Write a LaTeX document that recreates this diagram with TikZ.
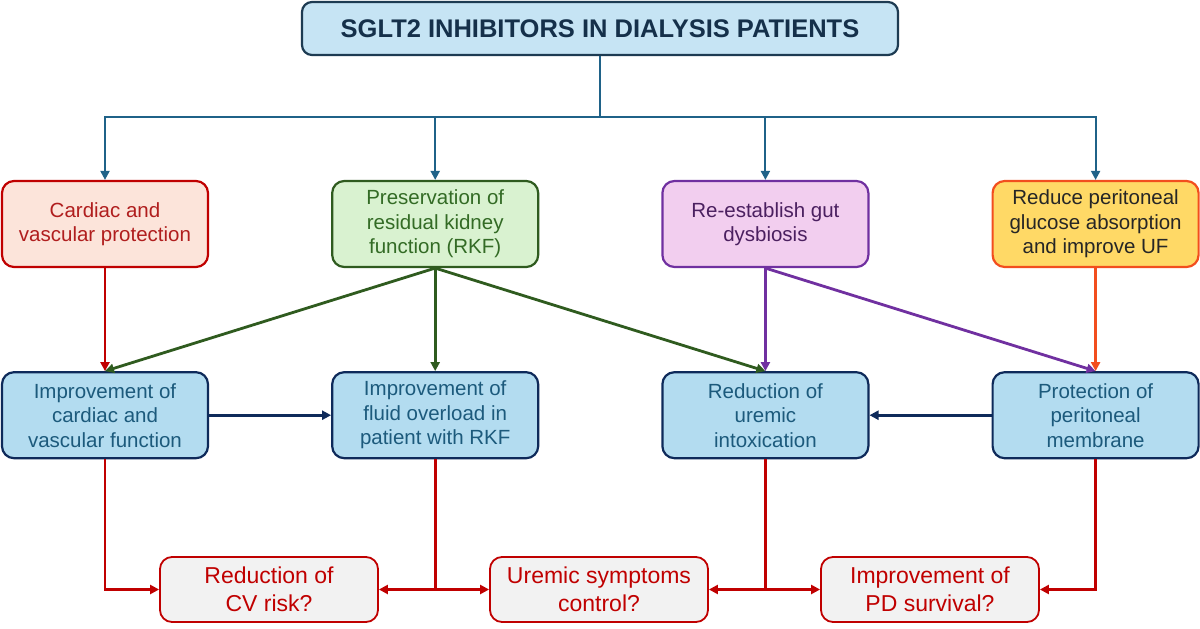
\documentclass[tikz,border=0pt]{standalone}
\usepackage{fontspec}
\setmainfont{Liberation Sans}
\usetikzlibrary{positioning, arrows.meta}

\definecolor{titlefill}{HTML}{C6E4F4}
\definecolor{titledraw}{HTML}{1D3B52}
\definecolor{titletext}{HTML}{15304A}
\definecolor{treeblue}{HTML}{1F6288}
\definecolor{cardfill}{HTML}{FCE4DA}
\definecolor{darkred}{HTML}{C00000}
\definecolor{cardtext}{HTML}{B01E1E}
\definecolor{rkffill}{HTML}{D9F2D0}
\definecolor{rkfdraw}{HTML}{2F5B1F}
\definecolor{rkftext}{HTML}{336B25}
\definecolor{gutfill}{HTML}{F2CEEF}
\definecolor{gutdraw}{HTML}{7030A0}
\definecolor{guttext}{HTML}{4B2060}
\definecolor{uffill}{HTML}{FFD966}
\definecolor{ufdraw}{HTML}{F24E1E}
\definecolor{midfill}{HTML}{B3DCF0}
\definecolor{middraw}{HTML}{0E2A5A}
\definecolor{midtext}{HTML}{1C5A7C}
\definecolor{outfill}{HTML}{F2F2F2}

\tikzset{
  box/.style={draw, rounded corners=12pt, line width=2.2pt, align=center,
    minimum width=206pt, minimum height=86pt, inner sep=2pt,
    font=\fontsize{20.5}{24.5}\selectfont},
  cardbox/.style={box, fill=cardfill, draw=darkred, text=cardtext},
  rkfbox/.style={box, fill=rkffill, draw=rkfdraw, text=rkftext},
  gutbox/.style={box, fill=gutfill, draw=gutdraw, text=guttext},
  ufbox/.style={box, fill=uffill, draw=ufdraw, text=black!85},
  midbox/.style={box, fill=midfill, draw=middraw, text=midtext},
  outbox/.style={box, fill=outfill, draw=darkred, text=darkred,
    minimum width=218pt, minimum height=65pt, line width=1.8pt,
    font=\fontsize{23}{27.5}\selectfont},
  titlebox/.style={draw=titledraw, fill=titlefill, text=titletext, rounded corners=10pt,
    line width=2.2pt, minimum width=596pt, minimum height=53pt,
    font=\bfseries\fontsize{25.5}{30}\selectfont},
  link/.style={line width=2.8pt, ->},
}

\begin{document}
\begin{tikzpicture}[x=1pt, y=-1pt, node distance=103pt and 122pt,
    >={Triangle[length=9pt, width=9pt]}]
  \useasboundingbox (0,0) rectangle (1200,629);

  \node[titlebox]                 (title)   at (600,28.5) {SGLT2 INHIBITORS IN DIALYSIS PATIENTS};
  \node[cardbox]                  (cardiac) at (105,224)  {Cardiac and\\vascular protection};
  \node[rkfbox, right=of cardiac] (rkf)     {Preservation of\\residual kidney\\function (RKF)};
  \node[gutbox, right=of rkf]     (gut)     {Re-establish gut\\dysbiosis};
  \node[ufbox, right=of gut]      (uf)      {Reduce peritoneal\\glucose absorption\\and improve UF};

  \node[midbox, below=of cardiac] (impcard) {Improvement of\\cardiac and\\vascular function};
  \node[midbox, below=of rkf]     (fluid)   {Improvement of\\fluid overload in\\patient with RKF};
  \node[midbox, below=of gut]     (uremic)  {Reduction of\\uremic\\intoxication};
  \node[midbox, below=of uf]      (membr)   {Protection of\\peritoneal\\membrane};

  \node[outbox] (cvrisk)   at (269,589.5) {Reduction of\\CV risk?};
  \node[outbox] (symptoms) at (599,589.5) {Uremic symptoms\\control?};
  \node[outbox] (pdsurv)   at (930,589.5) {Improvement of\\PD survival?};

  \coordinate (hub) at (600,117);

  % tree from the title
  \draw[treeblue, line width=2pt] (title) -- (hub);
  \draw[treeblue, line width=2pt, ->] (hub) -| (cardiac);
  \draw[treeblue, line width=2pt, ->] (hub) -| (rkf);
  \draw[treeblue, line width=2pt, ->] (hub) -| (gut);
  \draw[treeblue, line width=2pt, ->] (hub) -| (uf);

  % mechanisms
  \draw[link, darkred] (cardiac) -- (impcard);
  \draw[link, rkfdraw] (rkf.south) -- (impcard.north);
  \draw[link, rkfdraw] (rkf) -- (fluid);
  \draw[link, rkfdraw] (rkf.south) -- (uremic.north);
  \draw[link, gutdraw] (gut) -- (uremic);
  \draw[link, gutdraw] (gut.south) -- (membr.north);
  \draw[link, ufdraw]  (uf) -- (membr);
  \draw[link, middraw] (impcard) -- (fluid);
  \draw[link, middraw] (membr) -- (uremic);

  % outcomes
  \draw[link, darkred] (impcard) |- (cvrisk);
  \draw[link, darkred] (fluid) |- (cvrisk);
  \draw[link, darkred] (fluid) |- (symptoms);
  \draw[link, darkred] (uremic) |- (symptoms);
  \draw[link, darkred] (uremic) |- (pdsurv);
  \draw[link, darkred] (membr) |- (pdsurv);
\end{tikzpicture}
\end{document}
